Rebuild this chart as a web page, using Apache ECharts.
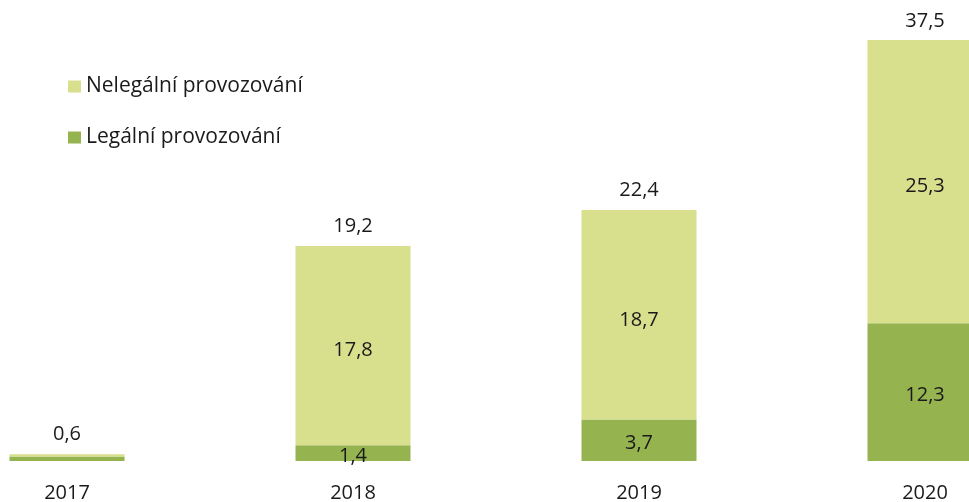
<!DOCTYPE html>
<html>
<head>
<meta charset="utf-8">
<script src="https://cdn.jsdelivr.net/npm/echarts@6/dist/echarts.min.js"></script>
<style>
  html, body { margin: 0; padding: 0; background: #fff; }
  #chart { width: 969px; height: 502px; }
</style>
</head>
<body>
<div id="chart"></div>
<script>
// Years on the x axis
const years = ['2017', '2018', '2019', '2020'];
// Legal operation (bottom segment)
const legal = [0.4, 1.4, 3.7, 12.3];
// Illegal operation (top segment)
const illegal = [0.2, 17.8, 18.7, 25.3];
// Totals printed above each bar
const totals = [0.6, 19.2, 22.4, 37.5];

const FONT = '"Open Sans", "Noto Sans", sans-serif';
const FS = 20;
const fmt = v => String(v).replace('.', ',');

const chart = echarts.init(document.getElementById('chart'), null, { renderer: 'canvas' });
chart.setOption({
  animation: false,
  textStyle: { fontFamily: FONT },
  grid: {
    left: -76, width: 1144, top: 13, bottom: 41,
    containLabel: false,
    outerBoundsMode: 'none'
  },
  legend: {
    orient: 'vertical',
    left: 63,
    top: 71,
    itemWidth: 13,
    itemHeight: 12,
    itemGap: 30,
    icon: 'rect',
    data: ['Nelegální provozování', 'Legální provozování'],
    textStyle: { fontFamily: FONT, fontSize: 21, color: '#1a1a1a' }
  },
  xAxis: {
    type: 'category',
    data: years,
    axisLine: { show: false },
    axisTick: { show: false },
    axisLabel: { fontFamily: FONT, fontSize: FS, color: '#1a1a1a', margin: 22 }
  },
  yAxis: {
    type: 'value',
    min: 0,
    max: 40,
    show: false,
    splitLine: { show: false }
  },
  series: [
    {
      name: 'Legální provozování',
      type: 'bar',
      stack: 'total',
      data: legal,
      barWidth: 115,
      itemStyle: { color: '#95B34F' },
      label: {
        show: true,
        position: 'inside',
        offset: [0, 3],
        fontFamily: FONT,
        fontSize: FS,
        color: '#1a1a1a',
        formatter: p => (p.dataIndex === 0 ? '' : fmt(p.value))
      }
    },
    {
      name: 'Nelegální provozování',
      type: 'bar',
      stack: 'total',
      data: illegal,
      barWidth: 115,
      itemStyle: { color: '#D8DF8D' },
      label: {
        show: true,
        position: 'inside',
        offset: [0, 5],
        fontFamily: FONT,
        fontSize: FS,
        color: '#1a1a1a',
        formatter: p => (p.dataIndex === 0 ? '' : fmt(p.value))
      }
    },
    {
      name: 'Celkem',
      type: 'bar',
      data: totals,
      barWidth: 115,
      barGap: '-100%',
      z: 0,
      itemStyle: { color: 'rgba(0,0,0,0)' },
      label: {
        show: true,
        position: 'top',
        distance: 10,
        fontFamily: FONT,
        fontSize: FS,
        color: '#1a1a1a',
        formatter: p => fmt(p.value)
      },
      emphasis: { disabled: true }
    }
  ]
});
</script>
</body>
</html>
